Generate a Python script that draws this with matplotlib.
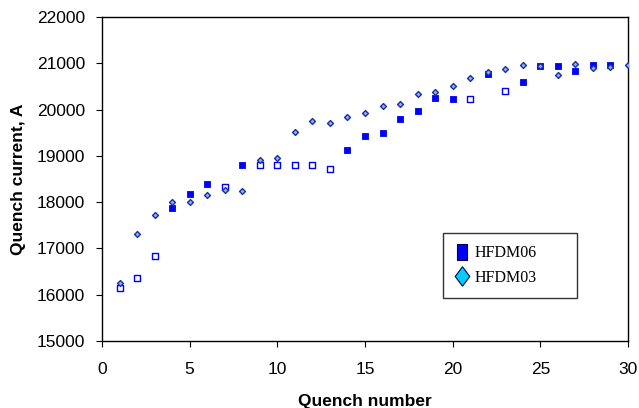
import numpy as np
import matplotlib.pyplot as plt
from matplotlib.lines import Line2D

# HFDM06 quench history (filled and open squares)
q06_filled = [4, 5, 6, 8, 14, 15, 16, 17, 18, 19, 20, 22, 24, 25, 26, 27, 28, 29]
i06_filled = [17870, 18180, 18400, 18800, 19130, 19430, 19490, 19790, 19980,
              20240, 20230, 20770, 20600, 20940, 20940, 20840, 20960, 20955]
q06_open = [1, 2, 3, 7, 9, 10, 11, 12, 13, 21, 23]
i06_open = [16150, 16370, 16840, 18320, 18800, 18800, 18800, 18800, 18710,
            20230, 20410]

# HFDM03 quench history (diamonds)
q03 = list(range(1, 31))
i03 = [16250, 17320, 17720, 18010, 18010, 18160, 18260, 18235, 18900, 18950,
       19520, 19760, 19700, 19840, 19930, 20070, 20130, 20340, 20370, 20520,
       20680, 20810, 20870, 20970, 20940, 20750, 20985, 20890, 20925, 20970]

plt.rcParams['font.family'] = ['Liberation Sans', 'DejaVu Sans']

fig = plt.figure(figsize=(6.39, 4.08), dpi=100)
ax = fig.add_axes([0.1596, 0.1642, 0.8232, 0.7941])

ax.scatter(q03, i03, marker='D', s=9, facecolor='#7fb2ff',
           edgecolor='#1f2fa0', linewidths=1.0, zorder=3)
ax.scatter(q06_filled, i06_filled, marker='s', s=17, facecolor='#0000ff',
           edgecolor='#0000ff', linewidths=0.6, zorder=2)
ax.scatter(q06_open, i06_open, marker='s', s=14, facecolor='white',
           edgecolor='#0000ff', linewidths=1.0, zorder=2)

ax.set_xlim(0, 30)
ax.set_ylim(15000, 22000)
ax.set_xticks(np.arange(0, 31, 5))
ax.set_yticks(np.arange(15000, 22001, 1000))
ax.tick_params(direction='out', length=4, width=0.8, labelsize=12.5)
ax.tick_params(axis='x', pad=11)
ax.tick_params(axis='y', pad=8)
for sp in ax.spines.values():
    sp.set_linewidth(1.0)

ax.set_xlabel('Quench number', fontsize=12.5, fontweight='bold', labelpad=12)
ax.set_ylabel('Quench current, A', fontsize=12.5, fontweight='bold', labelpad=8)

rect = [(-0.55, -1), (0.55, -1), (0.55, 1), (-0.55, 1), (-0.55, -1)]
tall_diamond = [(0, -1), (0.75, 0), (0, 1), (-0.75, 0), (0, -1)]
handles = [
    Line2D([], [], marker=rect, linestyle='none', markersize=12,
           markerfacecolor='#0000ff', markeredgecolor='#000040',
           markeredgewidth=0.8),
    Line2D([], [], marker=tall_diamond, linestyle='none', markersize=14,
           markerfacecolor='#00ccff', markeredgecolor='#000040',
           markeredgewidth=0.8),
]
leg = ax.legend(handles, ['HFDM06', 'HFDM03'], loc='lower left',
                bbox_to_anchor=(0.648, 0.133, 0.255, 0.207), mode='expand',
                prop={'family': 'Liberation Serif', 'size': 11.5},
                frameon=True, fancybox=False, edgecolor='black',
                handlelength=0.9, handletextpad=0.35, borderpad=0.75,
                labelspacing=0.55, borderaxespad=0)
leg.get_frame().set_linewidth(1.0)

fig.savefig('out.png', dpi=100)
